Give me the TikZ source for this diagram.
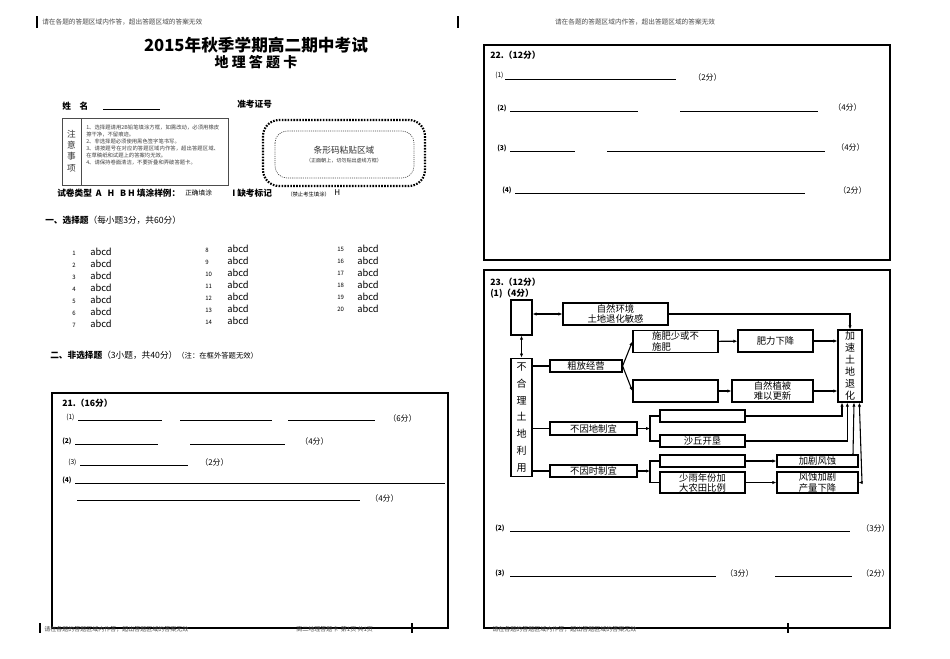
\documentclass[tikz,border=0pt]{standalone}
\usepackage{fontspec}
\setmainfont{Noto Sans CJK SC}
\XeTeXlinebreaklocale "zh"
\XeTeXlinebreakskip = 0pt plus 1pt
\usetikzlibrary{arrows.meta}
\tikzset{
 t/.style={inner sep=0pt,anchor=west,font=\fontsize{6}{7}\selectfont},
 tb/.style={t,font=\fontsize{6.5}{7}\selectfont\bfseries},
 fb/.style={draw,line width=0.9pt,inner sep=0pt,font=\fontsize{7}{7.6}\selectfont,align=center},
 fv/.style={fb,font=\fontsize{7.5}{12.6}\selectfont},
 fl/.style={line width=0.8pt},
 ar/.style={fl,-{Latex[length=3pt,width=2.5pt]}},
 ul/.style={line width=0.4pt},
 frame/.style={line width=0.9pt}
}
\begin{document}
\begin{tikzpicture}[x=0.75pt,y=-0.75pt]
\useasboundingbox (0,0) rectangle (950,658);
\fill[white] (0,0) rectangle (950,658);
% header
\draw[line width=0.8pt] (37,16)--(37,28) (458,16)--(458,28);
\node[t,font=\fontsize{5}{6}\selectfont,text=black!70] (h1) at (42,22) {请在各题的答题区域内作答，超出答题区域的答案无效};
\node[t,font=\fontsize{5}{6}\selectfont,text=black!70,anchor=center] (h2) at (635,22) {请在各题的答题区域内作答，超出答题区域的答案无效};
\node[font=\fontsize{12.5}{13}\selectfont\bfseries] (title) at (256,45) {2015年秋季学期高二期中考试};
\node[font=\fontsize{10.5}{11}\selectfont\bfseries] (title2) at (256,62) {地 理 答 题 卡};
% name
\node[tb] (nm) at (62,106) {姓\quad 名};
\draw[ul] (103,109)--(160,109);
\node[tb] (zk) at (237,104) {准考证号};
% notice box
\draw[line width=0.5pt,black!70] (62,118) rectangle (228,185) (81,118)--(81,185);
\node[font=\fontsize{6.5}{8.5}\selectfont,align=center,text=black!80] (zy) at (71.5,151) {注\\意\\事\\项};
\node[t,font=\fontsize{4}{5.2}\selectfont,text=black!75,anchor=north west,text width=100pt,align=left] (rules) at (86,125) {1、选择题请用2B铅笔填涂方框，如需改动，必须用橡皮擦干净，不留痕迹。\\2、非选择题必须使用黑色签字笔书写。\\3、请按题号在对应的答题区域内作答，超出答题区域、在草稿纸和试题上的答案均无效。\\4、请保持卷面清洁，不要折叠和弄破答题卡。};
% barcode box
\draw[line width=1.6pt,dash pattern=on 1.2pt off 1pt,rounded corners=12pt] (263,120) rectangle (425,186);
\draw[line width=0.5pt,dash pattern=on 0.8pt off 0.8pt,rounded corners=9pt,black!70] (275,131) rectangle (414,178);
\node[font=\fontsize{6.5}{7}\selectfont,text=black!80] (tx) at (344,150) {条形码粘贴区域};
\node[font=\fontsize{3.8}{4}\selectfont,text=black!80] (tx2) at (344,161) {（正面朝上，切勿贴出虚线方框）};
\node[tb] (typ) at (57,193) {试卷类型\ \ A\ \ \ H\ \ \ B\ H 填涂样例：};
\node[t,font=\fontsize{5}{6}\selectfont] (ok) at (185,193) {正确填涂};
\node[tb] (qk) at (232,193) {I 缺考标记};
\node[t,font=\fontsize{4}{5}\selectfont] (jz) at (287,194) {（禁止考生填涂）};
\node[t] (hh) at (334,193) {H};
% section 1
\node[t,font=\fontsize{6.5}{7}\selectfont] (s1) at (45,220) {\textbf{一、选择题}（每小题3分，共60分）};
\foreach \n [count=\i] in {1,...,7} {
 \node[t,font=\fontsize{4.5}{5}\selectfont] (a\i) at (72,241+12*\i) {\n};
 \node[t,font=\fontsize{7}{8}\selectfont] (b\i) at (90,240+12*\i) {abcd};}
\foreach \n [count=\i] in {8,...,14} {
 \node[t,font=\fontsize{4.5}{5}\selectfont] (c\i) at (205,238+12*\i) {\n};
 \node[t,font=\fontsize{7}{8}\selectfont] (d\i) at (227,237+12*\i) {abcd};}
\foreach \n [count=\i] in {15,...,20} {
 \node[t,font=\fontsize{4.5}{5}\selectfont] (e\i) at (337,237+12*\i) {\n};
 \node[t,font=\fontsize{7}{8}\selectfont] (f\i) at (357,237+12*\i) {abcd};}
\node[t,font=\fontsize{6.5}{7}\selectfont] (s2) at (50,355) {\textbf{二、非选择题}（3小题，共40分）\fontsize{5.5}{6}\selectfont（注：在框外答题无效）};
% box 21
\draw[frame] (52,393) rectangle (448,628);
\node[tb] (q21) at (62,403) {21.（16分）};
\node[t,font=\fontsize{5}{6}\selectfont] (l1) at (66,417) {(1)};
\draw[ul] (78,420)--(162,420) (180,420)--(272,420) (288,420)--(375,420);
\node[t] (p1) at (388,418) {（6分）};
\node[t,font=\fontsize{5}{6}\selectfont\bfseries] (l2) at (62,441) {(2)};
\draw[ul] (75,444)--(158,444) (190,444)--(285,444);
\node[t] (p2) at (300,441) {（4分）};
\node[t,font=\fontsize{5}{6}\selectfont] (l3) at (68,462) {(3)};
\draw[ul] (80,465)--(188,465);
\node[t] (p3) at (200,462) {（2分）};
\node[t,font=\fontsize{5}{6}\selectfont\bfseries] (l4) at (62,480) {(4)};
\draw[ul] (75,483)--(445,483) (77,500)--(360,500);
\node[t] (p4) at (370,498) {（4分）};
% box 22
\draw[frame] (484,45) rectangle (890,260);
\node[tb] (q22) at (490,55) {22.（12分）};
\node[t,font=\fontsize{5}{6}\selectfont] (m1) at (495,75) {(1)};
\draw[ul] (505,79)--(676,79);
\node[t] (r1) at (693,77) {（2分）};
\node[t,font=\fontsize{5}{6}\selectfont\bfseries] (m2) at (497,108) {(2)};
\draw[ul] (510,111)--(638,111) (680,111)--(818,111);
\node[t] (r2) at (833,107) {（4分）};
\node[t,font=\fontsize{5}{6}\selectfont\bfseries] (m3) at (497,148) {(3)};
\draw[ul] (510,151)--(575,151) (607,151)--(825,151);
\node[t] (r3) at (836,147) {（4分）};
\node[t,font=\fontsize{5}{6}\selectfont\bfseries] (m4) at (502,190) {(4)};
\draw[ul] (515,193)--(805,193);
\node[t] (r4) at (838,190) {（2分）};
% box 23
\draw[frame] (484,270) rectangle (890,628);
\node[tb] (q23) at (490,282) {23.（12分）};
\node[tb] (q231) at (490,294) {(1)（4分）};
\node[fb,minimum width=15.75pt,minimum height=26.25pt] (A) at (521.5,317.5) {};
\node[fb,minimum width=78.75pt,minimum height=16.5pt] (B) at (615.5,314) {自然环境\\土地退化敏感};
\node[fv,minimum width=15.75pt,minimum height=89pt] (C) at (521.5,417.5) {不\\合\\理\\土\\地\\利\\用};
\node[fb,minimum width=54pt,minimum height=9pt] (D) at (586,366) {粗放经营};
\node[fb,minimum width=63.75pt,minimum height=17pt,align=left] (E) at (675.5,341.5) {施肥少或不\\施肥};
\node[fb,minimum width=56.25pt,minimum height=16.5pt] (F) at (775.5,341) {肥力下降};
\node[fb,font=\fontsize{7.5}{9}\selectfont,minimum width=18pt,minimum height=54pt] (G) at (850,366) {加\\速\\土\\地\\退\\化};
\node[fb,minimum width=63.75pt,minimum height=16.5pt] (H) at (675.5,391) {};
\node[fb,minimum width=60.75pt,minimum height=16.5pt] (I) at (772.5,391) {自然植被\\难以更新};
\node[fb,minimum width=65.25pt,minimum height=9.75pt] (J) at (593.5,428.5) {不因地制宜};
\node[fb,minimum width=63.75pt,minimum height=9pt] (K) at (702.5,416) {};
\node[fb,minimum width=63.75pt,minimum height=9pt] (L) at (702.5,441) {沙丘开垦};
\node[fb,minimum width=65.25pt,minimum height=9pt] (M) at (593.5,471) {不因时制宜};
\node[fb,minimum width=63.75pt,minimum height=9pt] (N) at (702.5,461) {};
\node[fb,minimum width=63.75pt,minimum height=15.75pt] (O) at (702.5,482.5) {少雨年份加\\大农田比例};
\node[fb,minimum width=60.75pt,minimum height=9pt] (P) at (817.5,461) {加剧风蚀};
\node[fb,minimum width=60.75pt,minimum height=15.75pt] (Q) at (817.5,482.5) {风蚀加剧\\产量下降};
\draw[fl,{Latex[length=3pt,width=2.5pt]}-{Latex[length=3pt,width=2.5pt]}] (A.east|-B.west)--(B.west);
\draw[fl,{Latex[length=3pt,width=2.5pt]}-{Latex[length=3pt,width=2.5pt]}] (A.south)--(C.north);
\draw[ar] (B.east)-|(G.north);
\draw[fl] (C.east|-D.west)--(D.west) (C.east|-J.west)--(J.west) (C.east|-M.west)--(M.west);
\draw[ar] (D.east)--(E.west);
\draw[ar] (D.east)--(H.west);
\draw[ar] (E)--(F); \draw[ar] (F)--(G.west|-F.east);
\draw[ar] (H)--(I); \draw[ar] (I)--(G.west|-I.east);
\coordinate (jx) at (650,428.5);
\draw[ar] (J.east)--(jx);
\draw[fl] (K.west)-|(jx)|-(L.west);
\coordinate (mx) at (650,471);
\draw[ar] (M.east)--(mx);
\draw[fl] (N.west)-|(mx)|-(O.west);
\draw[ar] (K.east)-|([xshift=-6]G.south);
\draw[ar] (L.east)-|([xshift=-2]G.south);
\draw[ar] (P.north-|853,0)--([xshift=3]G.south);
\draw[ar] (N)--(P); \draw[ar] (O)--(Q);
\draw[fl,{Latex[length=3pt,width=2.5pt]}-{Latex[length=3pt,width=2.5pt]}] (Q.east)--(862,482.5)--([xshift=7]G.south);
\node[t,font=\fontsize{5}{6}\selectfont\bfseries] (n2) at (495,528) {(2)};
\draw[ul] (510,531)--(850,531);
\node[t] (s22) at (861,528) {（3分）};
\node[t,font=\fontsize{5}{6}\selectfont\bfseries] (n3) at (495,573) {(3)};
\draw[ul] (510,576)--(716,576) (775,576)--(852,576);
\node[t] (s23) at (725,573) {（3分）};
\node[t] (s24) at (861,573) {（2分）};
% footer
\draw[line width=0.8pt] (40,623)--(40,633) (412,623)--(412,633) (788,623)--(788,633);
\node[t,font=\fontsize{4.5}{5}\selectfont,text=black!70] (ft1) at (44,629) {请在各题的答题区域内作答，超出答题区域的答案无效};
\node[t,font=\fontsize{4.5}{5}\selectfont,text=black!70] (ft2) at (296,629) {高二地理答题卡\ \ 第1页\ 共1页};
\node[t,font=\fontsize{4.5}{5}\selectfont,text=black!70] (ft3) at (492,629) {请在各题的答题区域内作答，超出答题区域的答案无效};
\end{tikzpicture}
\end{document}
